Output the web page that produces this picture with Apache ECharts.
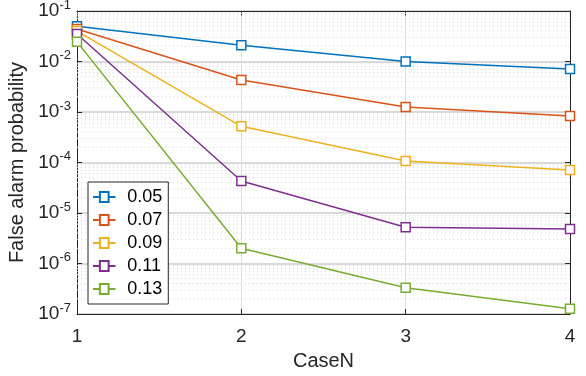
<!DOCTYPE html>
<html>
<head>
<meta charset="UTF-8">
<title>False alarm probability</title>
<style>
  html, body { margin: 0; padding: 0; background: #fff; }
  #box { width: 586px; height: 376px; }
</style>
</head>
<body>
<div id="box"></div>
<script src="https://cdn.jsdelivr.net/npm/echarts@6/dist/echarts.min.js"></script>
<script>
var caseN = [1, 2, 3, 4];
var names = ['0.05', '0.07', '0.09', '0.11', '0.13'];
var p005 = [0.050, 0.021, 0.0100, 0.0071];
var p007 = [0.044, 0.0043, 0.00125, 0.00083];
var p009 = [0.040, 0.00052, 1.07e-4, 7.1e-5];
var p011 = [0.035, 4.3e-5, 5.2e-6, 4.8e-6];
var p013 = [0.0245, 2.0e-6, 3.3e-7, 1.27e-7];
var values = [p005, p007, p009, p011, p013];
var colors = ['#0072BD', '#D95319', '#EDB120', '#7E2F8E', '#77AC30'];

var myChart = echarts.init(document.getElementById('box'));
var font = 'Liberation Sans, Arial';

var series = [];

// dotted minor grid at 2..9 x 10^k, drawn as flat lines across the x range
for (var k = -7; k < -1; k++) {
    for (var m = 2; m <= 9; m++) {
        var v = m * Math.pow(10, k);
        series.push({
            type: 'line',
            data: [[1, v], [4, v]],
            symbol: 'none',
            silent: true,
            lineStyle: { color: '#d4d4d4', type: [1, 3], width: 1 },
            z: 1
        });
    }
}

for (var i = 0; i < names.length; i++) {
    var pts = [];
    for (var j = 0; j < caseN.length; j++) {
        pts.push([caseN[j], values[i][j]]);
    }
    series.push({
        name: names[i],
        type: 'line',
        data: pts,
        symbol: 'rect',
        symbolSize: 9,
        showSymbol: true,
        color: colors[i],
        lineStyle: { color: colors[i], width: 1.5 },
        itemStyle: { color: '#fff', borderColor: colors[i], borderWidth: 1.5 },
        emphasis: { disabled: true },
        z: 5
    });
}

var option = {
    animation: false,
    backgroundColor: '#fff',
    grid: { left: 77, right: 16, top: 11, bottom: 62, containLabel: false, outerBoundsMode: 'none' },
    legend: {
        orient: 'vertical',
        left: 88,
        top: 182,
        data: names.map(function (n) {
            return { name: n, icon: 'path://M-9,0 L-3.5,0 L-3.5,-4 L3.5,-4 L3.5,0 L9,0 L3.5,0 L3.5,4 L-3.5,4 L-3.5,0 Z' };
        }),
        itemWidth: 36,
        itemHeight: 10,
        itemGap: 5,
        padding: [6, 6, 6, 4],
        borderColor: '#262626',
        borderWidth: 1,
        backgroundColor: '#fff',
        textStyle: { fontFamily: font, fontSize: 18, color: '#000', padding: [0, 0, 0, 0] }
    },
    xAxis: [{
        type: 'value',
        min: 1,
        max: 4,
        interval: 1,
        name: 'CaseN',
        nameLocation: 'middle',
        nameGap: 37,
        nameTextStyle: { fontFamily: font, fontSize: 20, color: '#262626' },
        axisLine: { lineStyle: { color: '#262626' } },
        axisTick: { inside: true, length: 5, lineStyle: { color: '#262626' } },
        axisLabel: { fontFamily: font, fontSize: 19, color: '#262626', margin: 13 },
        splitLine: { show: true, lineStyle: { color: '#dedede', width: 1 } }
    }, {
        type: 'value',
        position: 'top',
        min: 1,
        max: 4,
        interval: 1,
        axisLine: { show: true, lineStyle: { color: '#262626' } },
        axisTick: { show: true, inside: true, length: 5, lineStyle: { color: '#262626' } },
        axisLabel: { show: false },
        splitLine: { show: false }
    }],
    yAxis: [{
        type: 'log',
        logBase: 10,
        min: 1e-7,
        max: 1e-1,
        name: 'False alarm probability',
        nameLocation: 'middle',
        nameGap: 36,
        nameTextStyle: { fontFamily: font, fontSize: 20, color: '#262626' },
        axisLine: { show: true, lineStyle: { color: '#262626' } },
        axisTick: { inside: true, length: 5, lineStyle: { color: '#262626' } },
        splitLine: { show: true, lineStyle: { color: '#d9d9d9', width: 2 } },
        axisLabel: {
            margin: 6,
            formatter: function (v) {
                var e = Math.round(Math.log10(v));
                return '{b|10}{s|' + e + '}';
            },
            rich: {
                b: { fontFamily: font, fontSize: 19, color: '#262626' },
                s: { fontFamily: font, fontSize: 13, color: '#262626', verticalAlign: 'top', padding: [0, 0, 12, 0] }
            }
        }
    }, {
        type: 'log',
        logBase: 10,
        min: 1e-7,
        max: 1e-1,
        position: 'right',
        axisLine: { show: true, lineStyle: { color: '#262626' } },
        axisTick: { show: true, inside: true, length: 5, lineStyle: { color: '#262626' } },
        axisLabel: { show: false },
        splitLine: { show: false }
    }],
    series: series
};
myChart.setOption(option);
</script>
</body>
</html>
